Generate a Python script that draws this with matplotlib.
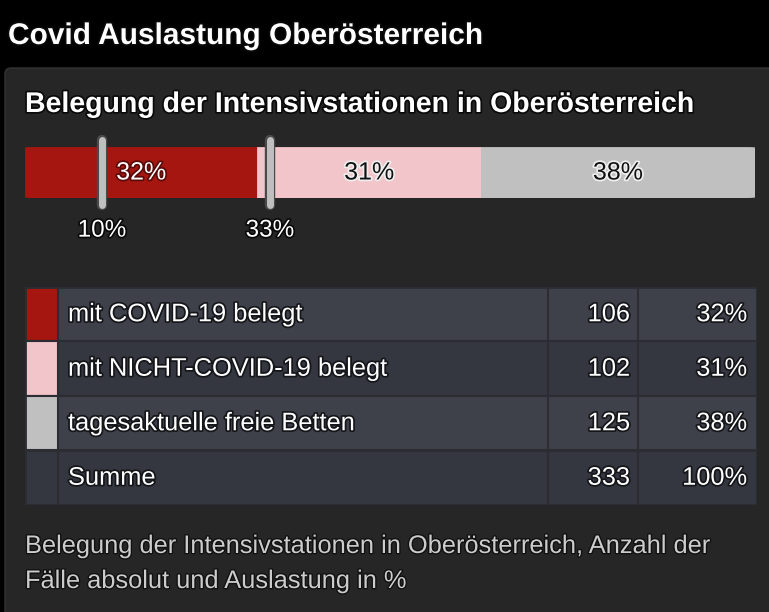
import numpy as np
import matplotlib.pyplot as plt
import matplotlib.patheffects as pe
import matplotlib.transforms as mtrans
from matplotlib.patches import FancyBboxPatch, Rectangle

plt.rcParams['font.family'] = ['Liberation Sans', 'DejaVu Sans']

# ── Data ───────────────────────────────────────────────────────────────────
categories = ['mit COVID-19 belegt', 'mit NICHT-COVID-19 belegt', 'tagesaktuelle freie Betten']
counts     = [106, 102, 125]
pct_labels = ['32%', '31%', '38%']
seg_colors = ['#a51611', '#f1c5c9', '#c0c0c0']
txt_colors = ['white', '#111111', '#111111']
thresholds = [10, 33]          # Auslastungsgrenzen in %
sum_label  = 'Summe'
sum_pct    = '100%'

title    = 'Covid Auslastung Oberösterreich'
subtitle = 'Belegung der Intensivstationen in Oberösterreich'
caption  = ['Belegung der Intensivstationen in Oberösterreich, Anzahl der',
            'Fälle absolut und Auslastung in %']

# ── Figure / background (pixel coords) ─────────────────────────────────────
W, H = 769, 612
fig = plt.figure(figsize=(W / 100, H / 100), dpi=100, facecolor='black')
bg = fig.add_axes([0, 0, 1, 1])
bg.set_xlim(0, W)
bg.set_ylim(H, 0)
bg.axis('off')
bg.add_patch(FancyBboxPatch((5, 68), W + 20, H, boxstyle='round,pad=0,rounding_size=6',
                            fc='#262626', ec='#333333', lw=1))

outline = [pe.withStroke(linewidth=2.5, foreground='#0a0a0a')]
bg.text(8, 36, title, color='white', fontsize=21.5, fontweight='bold',
        va='center', ha='left', path_effects=outline)
bg.text(25, 105, subtitle, color='white', fontsize=20.5, fontweight='bold',
        va='center', ha='left', path_effects=outline)
for k, line in enumerate(caption):
    bg.text(25, 546 + 35 * k, line, color='#cccccc', fontsize=18.3, va='center',
            ha='left', path_effects=[pe.withStroke(linewidth=2, foreground='#111111')])

def fig_rect(x0, y0, x1, y1):
    return [x0 / W, 1 - y1 / H, (x1 - x0) / W, (y1 - y0) / H]

# ── Stacked bar ────────────────────────────────────────────────────────────
total = sum(counts)
axb = fig.add_axes(fig_rect(25, 147, 755, 198))
axb.set_xlim(0, total)
axb.set_ylim(-0.5, 0.5)
axb.axis('off')
lefts = np.concatenate([[0], np.cumsum(counts)[:-1]])
bars = axb.barh(0, counts, left=lefts, height=1.0, color=seg_colors,
                edgecolor=seg_colors, lw=0.6)
# rounded outer corners of the bar
clip = FancyBboxPatch((0, 0), 1, 1, boxstyle='round,pad=0,rounding_size=0.012',
                      transform=axb.transAxes, fc='none', ec='none')
axb.add_patch(clip)
for b in bars:
    b.set_clip_path(clip)

for l, c, lab, tc in zip(lefts, counts, pct_labels, txt_colors):
    pe_txt = [pe.withStroke(linewidth=2.5, foreground='#5a0a08' if tc == 'white' else '#eeeeee')]
    axb.text(l + c / 2, 0, lab, color=tc, fontsize=18, ha='center', va='center',
             path_effects=pe_txt)

# markers sit slightly right of their nominal value, as in the original widget
shift = mtrans.ScaledTranslation(4 / 100, 0, fig.dpi_scale_trans)
for t in thresholds:
    x = total * t / 100.0
    tr = axb.transData + shift
    axb.plot([x, x], [0.64, -0.64], color='#4a4a4a', lw=7.5, solid_capstyle='round',
             clip_on=False, transform=tr)
    axb.plot([x, x], [0.64, -0.64], color='#d4d4d4', lw=5, solid_capstyle='round',
             clip_on=False, transform=tr, alpha=0.85)
    axb.text(x, -1.14, f'{t}%', color='white', fontsize=17.5, ha='center', va='center',
             path_effects=outline, clip_on=False, transform=tr)

# ── Table ──────────────────────────────────────────────────────────────────
axt = fig.add_axes(fig_rect(25, 287, 757, 505))
axt.set_xlim(0, 732)
axt.set_ylim(4, 0)
axt.axis('off')
col_x = [0, 33, 523, 613, 732]
row_bg = ['#3e414a', '#34373f']
grid = '#2b2d33'

rows = [(c, n, p, sc) for c, n, p, sc in zip(categories, counts, pct_labels, seg_colors)]
rows.append((sum_label, total, sum_pct, '#34373f'))
cell_outline = [pe.withStroke(linewidth=2.5, foreground='#15161a')]
for i, (lab, n, p, sc) in enumerate(rows):
    axt.add_patch(Rectangle((col_x[1], i), col_x[-1] - col_x[1], 1, fc=row_bg[i % 2],
                            ec=grid, lw=1.5))
    axt.add_patch(Rectangle((0, i), col_x[1], 1, fc=sc, ec=grid, lw=1.5))
    for xc in col_x[2:4]:
        axt.plot([xc, xc], [i, i + 1], color=grid, lw=1.5)
    axt.text(col_x[1] + 10, i + 0.5, lab, color='white', fontsize=18.3, ha='left',
             va='center', path_effects=cell_outline)
    axt.text(col_x[3] - 8, i + 0.5, str(n), color='white', fontsize=18.3, ha='right',
             va='center', path_effects=cell_outline)
    axt.text(col_x[4] - 10, i + 0.5, p, color='white', fontsize=18.3, ha='right',
             va='center', path_effects=cell_outline)
axt.add_patch(Rectangle((0, 0), 732, 4, fc='none', ec=grid, lw=2))

fig.savefig('out.png', dpi=100, facecolor='black')
